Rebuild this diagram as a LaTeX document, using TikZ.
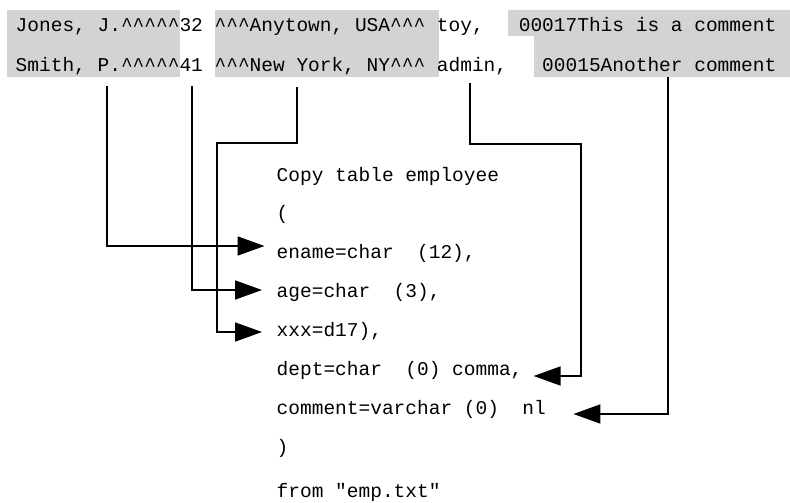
\documentclass[tikz,border=0pt]{standalone}
\usepackage{fontspec}
\setmonofont{Liberation Mono}
\usepackage{tikz}
\usetikzlibrary{arrows.meta}

\definecolor{fieldgray}{RGB}{211,211,211}
\newcommand{\recfont}{\ttfamily\fontsize{19.5pt}{20pt}\selectfont}
\newcommand{\caret}{\char`\^}

\begin{document}
\begin{tikzpicture}[x=1pt,y=-1pt,
      field/.style = { fill=fieldgray},
      rec/.style = { anchor=base west, inner sep=0pt, text depth=0pt, font=\recfont},
      stmt/.style = { anchor=base west, inner xsep=12pt, inner ysep=0pt,
                      text height=14pt, text depth=4pt, font=\recfont},
      feed/.style = { line width=1.8pt, -{Triangle[length=27pt,width=19pt]}}]
  \useasboundingbox (0,0) rectangle (790,503);

  % Shaded fields
  \fill[field] (7,10) rectangle (180,77);
  \fill[field] (215,10) rectangle (439,77);
  \fill[field] (508,10) -- (790,10) -- (790,77) -- (534,77) -- (534,36) -- (508,36) -- cycle;

  % Data records
  \node[rec] (name1) at (15.5,32) {Jones, J.\caret\caret\caret\caret\caret};
  \node[rec] (age1) at (179.3,32) {32};
  \node[rec] (city1) at (214.4,32) {\caret\caret\caret Anytown, USA\caret\caret\caret};
  \node[rec] (dept1) at (436.7,32) {toy,};
  \node[rec] (note1) at (518.6,32) {00017This is a comment};

  \node[rec] (name2) at (15.5,71.5) {Smith, P.\caret\caret\caret\caret\caret};
  \node[rec] (age2) at (179.3,71.5) {41};
  \node[rec] (city2) at (214.4,71.5) {\caret\caret\caret New York, NY\caret\caret\caret};
  \node[rec] (dept2) at (436.7,71.5) {admin,};
  \node[rec] (note2) at (542,71.5) {00015Another comment};

  % Copy statement
  \node[stmt] (copy) at (264.5,181) {Copy table employee};
  \node[stmt] (lpar) at (264.5,219) {(};
  \node[stmt] (ename) at (264.5,258) {ename=char~~(12),};
  \node[stmt] (age) at (264.5,297) {age=char~~(3),};
  \node[stmt] (xxx) at (264.5,336) {xxx=d17),};
  \node[stmt] (dept) at (264.5,375) {dept=char~~(0) comma,};
  \node[stmt] (cmt) at (264.5,414) {comment=varchar (0)~~nl};
  \node[stmt] (rpar) at (264.5,453) {)};
  \node[stmt] (from) at (264.5,497) {from "emp.txt"};

  % Field mapping
  \draw[feed] ([shift={(9.6,14.5)}]name2.south) |- ([shift={(0,-7)}]ename.west);
  \draw[feed] ([shift={(1,14.5)}]age2.south) |- ([shift={(-2.5,-2)}]age.west);
  \draw[feed] ([shift={(-22.7,15.5)}]city2.south) -- ++(0,56)
      -| ([shift={(-47.5,1)}]xxx.west) -- ([shift={(-2.5,1)}]xxx.west);
  \draw[feed] ([shift={(-1.8,11.5)}]dept2.south) -- ++(0,61)
      -| ([shift={(46,6)}]dept.east) -- ([shift={(-1,6)}]dept.east);
  \draw[feed] ([shift={(9,5.5)}]note2.south) |- ([shift={(15.4,5)}]cmt.east);

\end{tikzpicture}
\end{document}
